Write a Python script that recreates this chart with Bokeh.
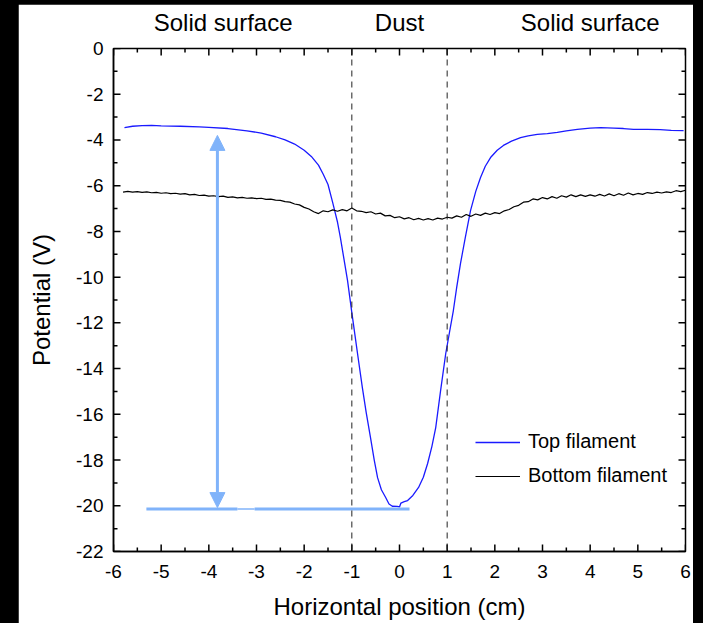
import math
from bokeh.plotting import figure
from bokeh.models import (LinearAxis, FixedTicker, Span, Arrow, NormalHead,
                          CustomJSTickFormatter, Range1d)
from bokeh.layouts import column
from bokeh.embed import file_html
from bokeh.resources import INLINE

# ---------------- data ----------------
bottom_x = [-5.8, -5.7, -5.6, -5.5, -5.4, -5.3, -5.2, -5.1, -5.0, -4.9, -4.8, -4.7, -4.6, -4.5,
            -4.4, -4.3, -4.2, -4.1, -4.0, -3.9, -3.8, -3.7, -3.6, -3.5, -3.4, -3.3, -3.2, -3.1,
            -3.0, -2.9, -2.8, -2.7, -2.6, -2.5, -2.4, -2.3, -2.2, -2.1, -2.0, -1.9, -1.8, -1.7,
            -1.6, -1.5, -1.4, -1.3, -1.2, -1.1, -1.0, -0.9, -0.8, -0.7, -0.6, -0.5, -0.4, -0.3,
            -0.2, -0.1, 0.0, 0.1, 0.2, 0.3, 0.4, 0.5, 0.6, 0.7, 0.8, 0.9, 1.0, 1.1, 1.2, 1.3,
            1.4, 1.5, 1.6, 1.7, 1.8, 1.9, 2.0, 2.1, 2.2, 2.3, 2.4, 2.5, 2.6, 2.7, 2.8, 2.9,
            3.0, 3.1, 3.2, 3.3, 3.4, 3.5, 3.6, 3.7, 3.8, 3.9, 4.0, 4.1, 4.2, 4.3, 4.4, 4.5,
            4.6, 4.7, 4.8, 4.9, 5.0, 5.1, 5.2, 5.3, 5.4, 5.5, 5.6, 5.7, 5.8, 5.9, 6.0]
bottom_y = [-6.28, -6.25, -6.28, -6.26, -6.29, -6.27, -6.31, -6.29, -6.33, -6.31, -6.35, -6.33,
            -6.37, -6.35, -6.40, -6.38, -6.43, -6.41, -6.46, -6.44, -6.48, -6.46, -6.51, -6.49,
            -6.53, -6.51, -6.55, -6.53, -6.57, -6.55, -6.60, -6.59, -6.63, -6.64, -6.70, -6.72,
            -6.80, -6.84, -6.95, -7.02, -7.14, -7.22, -7.10, -7.14, -7.06, -7.12, -7.05, -7.10,
            -6.98, -7.10, -7.12, -7.18, -7.14, -7.24, -7.20, -7.32, -7.30, -7.40, -7.36, -7.45,
            -7.40, -7.49, -7.43, -7.50, -7.44, -7.50, -7.42, -7.46, -7.38, -7.42, -7.32, -7.38,
            -7.26, -7.34, -7.24, -7.30, -7.20, -7.26, -7.18, -7.22, -7.10, -7.04, -6.92, -6.86,
            -6.72, -6.70, -6.58, -6.62, -6.52, -6.58, -6.48, -6.55, -6.44, -6.50, -6.40, -6.48,
            -6.40, -6.47, -6.40, -6.46, -6.38, -6.45, -6.36, -6.44, -6.35, -6.42, -6.32, -6.40,
            -6.34, -6.38, -6.30, -6.34, -6.28, -6.32, -6.27, -6.30, -6.22, -6.26, -6.20]

top_x = [-5.77, -5.6, -5.4, -5.2, -5.0, -4.6, -4.2, -4.0, -3.6, -3.2, -2.9, -2.6, -2.4, -2.2,
         -2.0, -1.85, -1.7, -1.6, -1.5, -1.4, -1.3, -1.24, -1.15, -1.09, -1.0, -0.96, -0.88,
         -0.78, -0.7, -0.61, -0.53, -0.46, -0.38, -0.29, -0.22, -0.15, -0.05, 0.0, 0.03, 0.1,
         0.17, 0.28, 0.40, 0.5, 0.59, 0.68, 0.76, 0.86, 0.97, 1.05, 1.13, 1.2, 1.28, 1.38,
         1.49, 1.6, 1.70, 1.8, 1.91, 2.05, 2.18, 2.35, 2.54, 2.7, 2.89, 3.1, 3.31, 3.5, 3.73,
         4.0, 4.22, 4.5, 4.7, 4.91, 5.2, 5.47, 5.7, 5.96]
top_y = [-3.46, -3.40, -3.37, -3.36, -3.38, -3.40, -3.43, -3.45, -3.50, -3.60, -3.70, -3.86,
         -4.00, -4.18, -4.45, -4.72, -5.10, -5.50, -5.95, -6.75, -7.60, -8.27, -9.40, -10.15,
         -11.55, -12.15, -13.35, -14.82, -15.9, -17.0, -18.0, -18.77, -19.3, -19.64, -19.92,
         -20.02, -20.03, -20.05, -19.88, -19.82, -19.77, -19.55, -19.2, -18.75, -18.15, -17.4,
         -16.58, -15.0, -13.34, -12.4, -11.46, -10.45, -9.4, -8.27, -7.09, -6.25, -5.64, -5.15,
         -4.77, -4.45, -4.24, -4.05, -3.90, -3.82, -3.76, -3.72, -3.67, -3.60, -3.54, -3.48,
         -3.46, -3.48, -3.50, -3.54, -3.54, -3.55, -3.58, -3.59]

# axis ticks
x_major = [-6, -5, -4, -3, -2, -1, 0, 1, 2, 3, 4, 5, 6]
x_minor = [-5.5, -4.5, -3.5, -2.5, -1.5, -0.5, 0.5, 1.5, 2.5, 3.5, 4.5, 5.5]
y_major = [0, -2, -4, -6, -8, -10, -12, -14, -16, -18, -20, -22]
y_minor = [-1, -3, -5, -7, -9, -11, -13, -15, -17, -19, -21]

region_labels = ["Solid surface", "Dust", "Solid surface"]
region_centers = [-3.7, 0.0, 4.0]
boundaries = [-1.0, 1.0]

# annotation (depth arrow) values
arrow_x = -3.82
arrow_top = -3.8
arrow_bottom = -20.08
base_level = -20.14
base_segments_x0 = [-5.31, -3.04]
base_segments_x1 = [-3.40, 0.21]
base_gap = (-3.40, -3.04)

FONT = "Liberation Sans"
LIGHT_BLUE = "#80b3fa"
XMIN, XMAX, YMIN, YMAX = -6, 6, -22, 0

p = figure(width=675, height=619, output_backend="svg", toolbar_location=None,
           x_range=Range1d(XMIN, XMAX), y_range=Range1d(YMIN, YMAX),
           min_border_left=95, min_border_right=8, min_border_top=44, min_border_bottom=72,
           background_fill_color="white", border_fill_color="white",
           outline_line_color="black", outline_line_width=1.5)
p.xgrid.visible = False
p.ygrid.visible = False

hyphen = CustomJSTickFormatter(code="return tick.toFixed(0)")

def style_axis(ax):
    ax.axis_line_color = "black"
    ax.axis_line_width = 1.5
    ax.major_tick_line_color = None
    ax.minor_tick_line_color = None
    ax.major_tick_in = 0
    ax.major_tick_out = 0
    ax.minor_tick_in = 0
    ax.minor_tick_out = 0
    ax.major_label_text_font = FONT
    ax.major_label_text_font_size = "19px"
    ax.major_label_text_color = "black"
    ax.axis_label_text_font = FONT
    ax.axis_label_text_font_size = "24px"
    ax.axis_label_text_font_style = "normal"
    ax.axis_label_text_color = "black"

p.xaxis.ticker = FixedTicker(ticks=x_major)
p.yaxis.ticker = FixedTicker(ticks=y_major)
p.xaxis.formatter = hyphen
p.yaxis.formatter = hyphen
style_axis(p.xaxis[0])
style_axis(p.yaxis[0])
p.xaxis.axis_label = "Horizontal position (cm)"
p.yaxis.axis_label = "Potential (V)"
p.xaxis.major_label_standoff = 13
p.yaxis.major_label_standoff = 10
p.xaxis.axis_label_standoff = 12
p.yaxis.axis_label_standoff = 18

# region names on top
top_ax = LinearAxis(ticker=FixedTicker(ticks=region_centers),
                    major_label_overrides={c: t for c, t in zip(region_centers, region_labels)})
style_axis(top_ax)
top_ax.axis_line_color = None
top_ax.major_label_text_font_size = "24px"
top_ax.major_label_standoff = 13
p.add_layout(top_ax, "above")

# inward ticks on all four sides
TICK_COLOR = "black"
p.ray(x=x_major, y=[YMIN] * len(x_major), length=7, angle=math.pi / 2, length_units="screen",
      line_color=TICK_COLOR, line_width=1.5)
p.ray(x=x_minor, y=[YMIN] * len(x_minor), length=4, angle=math.pi / 2, length_units="screen",
      line_color=TICK_COLOR, line_width=1.5)
p.ray(x=x_major, y=[YMAX] * len(x_major), length=7, angle=-math.pi / 2, length_units="screen",
      line_color=TICK_COLOR, line_width=1.5)
p.ray(x=x_minor, y=[YMAX] * len(x_minor), length=4, angle=-math.pi / 2, length_units="screen",
      line_color=TICK_COLOR, line_width=1.5)
p.ray(x=[XMIN] * len(y_major), y=y_major, length=7, angle=0, length_units="screen",
      line_color=TICK_COLOR, line_width=1.5)
p.ray(x=[XMIN] * len(y_minor), y=y_minor, length=4, angle=0, length_units="screen",
      line_color=TICK_COLOR, line_width=1.5)
p.ray(x=[XMAX] * len(y_major), y=y_major, length=7, angle=math.pi, length_units="screen",
      line_color=TICK_COLOR, line_width=1.5)
p.ray(x=[XMAX] * len(y_minor), y=y_minor, length=4, angle=math.pi, length_units="screen",
      line_color=TICK_COLOR, line_width=1.5)

for b in boundaries:
    p.add_layout(Span(location=b, dimension="height", line_color="#222222",
                      line_width=1, line_dash="6 5"))

p.line(top_x, top_y, line_color="#1a1aff", line_width=1.3, legend_label="Top filament")
p.line(bottom_x, bottom_y, line_color="black", line_width=1.2, legend_label="Bottom filament")

# base level line (with the thin gap)
p.segment(x0=base_segments_x0, y0=[base_level] * 2, x1=base_segments_x1, y1=[base_level] * 2,
          line_color=LIGHT_BLUE, line_width=3)
p.segment(x0=[base_gap[0]], y0=[base_level], x1=[base_gap[1]], y1=[base_level],
          line_color=LIGHT_BLUE, line_width=1.5)

p.add_layout(Arrow(start=NormalHead(size=15, fill_color=LIGHT_BLUE, line_color=LIGHT_BLUE),
                   end=NormalHead(size=15, fill_color=LIGHT_BLUE, line_color=LIGHT_BLUE),
                   x_start=arrow_x, y_start=arrow_bottom, x_end=arrow_x, y_end=arrow_top,
                   line_color=LIGHT_BLUE, line_width=3))

lg = p.legend[0]
lg.location = (362, 64)
lg.label_text_font = FONT
lg.label_text_font_size = "20px"
lg.label_text_color = "black"
lg.glyph_width = 45
lg.label_standoff = 8
lg.spacing = 11
lg.padding = 0
lg.margin = 0
lg.border_line_color = None
lg.background_fill_alpha = 0

layout = column(p, styles={"background-color": "black", "margin": "-8px 0 0 -8px",
                           "padding": "12px 10px 0 26px"})

open("out.html", "w").write(file_html(layout, INLINE))
